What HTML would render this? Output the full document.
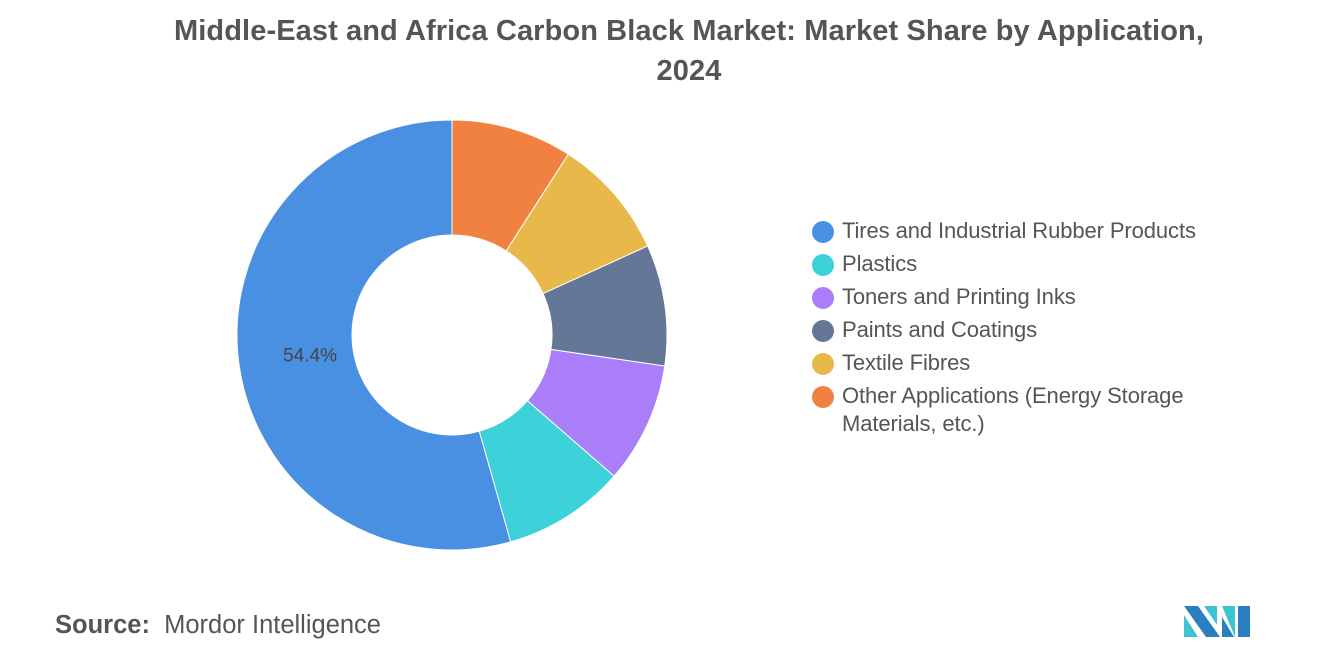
<!DOCTYPE html>
<html><head><meta charset="utf-8"><style>
body{margin:0;width:1320px;height:665px;background:#fff;font-family:"Liberation Sans",sans-serif;overflow:hidden;position:relative}
.title{position:absolute;left:0;top:11px;width:1378px;text-align:center;font-size:29px;font-weight:bold;color:#555;line-height:40px;letter-spacing:0.1px}
.legend{position:absolute;left:812px;top:217px}
.li{display:flex;align-items:flex-start;font-size:22px;color:#555;height:33px;line-height:28px;letter-spacing:-0.1px}
.dot{width:22px;height:22px;border-radius:50%;margin:4px 8px 0 0;flex:none}
.src{position:absolute;left:55px;top:611px;font-size:25.5px;color:#555}
</style></head><body>
<div class="title">Middle-East and Africa Carbon Black Market: Market Share by Application,<br>2024</div>
<svg id="chart" width="1320" height="665" style="position:absolute;left:0;top:0"></svg>
<div class="legend" id="legend"></div>
<div class="src"><b>Source:</b>&nbsp; Mordor Intelligence</div>
<svg width="70" height="36" style="position:absolute;left:1184px;top:603px">
<polygon points="0,3 14,3 36,34 22,34" fill="#2a7fbf"/>
<polygon points="0,12 14,34 0,34" fill="#3cc5cf"/>
<polygon points="20,3 33,3 33,22" fill="#3cc5cf"/>
<polygon points="38,3 51,3 51,34" fill="#3cc5cf"/>
<polygon points="38,14 50,34 38,34" fill="#2a7fbf"/>
<polygon points="54,3 66,3 66,34 54,34" fill="#2a7fbf"/>
</svg>
<script>
const categories=["Tires and Industrial Rubber Products","Plastics","Toners and Printing Inks","Paints and Coatings","Textile Fibres","Other Applications (Energy Storage Materials, etc.)"];
const values=[54.4,9.2,9.1,9.1,9.1,9.1];
const colors=["#4a90e2","#3dd1da","#a97ef8","#657797","#e9b84a","#f08140"];
const labels=["54.4%","","","","",""];
const cx=452,cy=335,R=215,r=100;
const svg=document.getElementById('chart');
const NS="http://www.w3.org/2000/svg";
const total=values.reduce((a,b)=>a+b,0);
function pt(a,rad){return [cx+rad*Math.sin(a),cy-rad*Math.cos(a)];}
let start=0;
values.forEach((v,i)=>{
  const sweep=v/total*2*Math.PI;
  const a0=start, a1=start-sweep;
  const [x0,y0]=pt(a0,R),[x1,y1]=pt(a1,R),[x2,y2]=pt(a1,r),[x3,y3]=pt(a0,r);
  const lg=sweep>Math.PI?1:0;
  const p=document.createElementNS(NS,'path');
  p.setAttribute('d',`M${x0},${y0} A${R},${R} 0 ${lg} 0 ${x1},${y1} L${x2},${y2} A${r},${r} 0 ${lg} 1 ${x3},${y3} Z`);
  p.setAttribute('fill',colors[i]);
  p.setAttribute('stroke','#fff');p.setAttribute('stroke-width','1');
  
  
  svg.appendChild(p);
  if(labels[i]){
    const t=document.createElementNS(NS,'text');
    const [lx,ly]=pt((a0+a1)/2,(R+r)/2*0.91);
    t.setAttribute('x',lx);t.setAttribute('y',ly+7);
    t.setAttribute('text-anchor','middle');t.setAttribute('font-size','19');t.setAttribute('fill','#444');
    t.textContent=labels[i];
    
    
    svg.appendChild(t);
  }
  start=a1;
});
const lg=document.getElementById('legend');
categories.forEach((c,i)=>{
  const d=document.createElement('div');d.className='li';
  
  
  d.innerHTML=`<span class="dot" style="background:${colors[i]}"></span><span style="width:370px">${c}</span>`;
  lg.appendChild(d);
});
</script>
</body></html>
